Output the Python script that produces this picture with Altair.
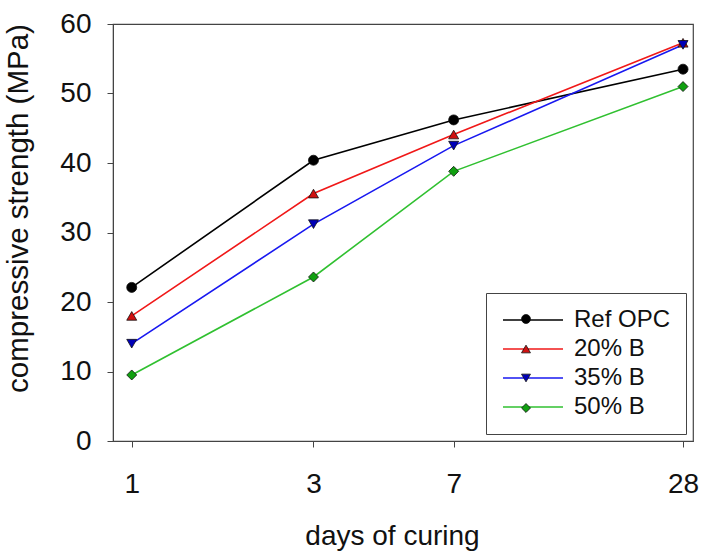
import altair as alt
import pandas as pd

days = [1, 3, 7, 28]
series_names = ["Ref OPC", "20% B", "35% B", "50% B"]
ref_opc = [22.1, 40.4, 46.2, 53.5]
b20 = [18.0, 35.6, 44.1, 57.3]
b35 = [14.0, 31.2, 42.5, 57.0]
b50 = [9.5, 23.6, 38.8, 51.0]
y_ticks = [0, 10, 20, 30, 40, 50, 60]

line_colors = ["#000000", "#f01818", "#1818f0", "#30c030"]
fill_colors = ["#000000", "#d01010", "#0000b8", "#10a010"]
shapes = ["circle", "triangle-up", "triangle-down", "diamond"]

rows = []
for name, vals in zip(series_names, [ref_opc, b20, b35, b50]):
    for d, v in zip(days, vals):
        rows.append({"day": d, "strength": v, "series": name, "series_l": name})
df = pd.DataFrame(rows)

FONT = "Liberation Sans"

x = alt.X("day:Q", scale=alt.Scale(type="log", domain=[0.893, 29.74]),
          axis=alt.Axis(values=days, title="days of curing", grid=False,
                        labelExpr="datum.value", labelBaseline="alphabetic",
                        labelPadding=45, titleBaseline="alphabetic",
                        titleX=279, titleY=103))
y = alt.Y("strength:Q", scale=alt.Scale(domain=[0, 60], nice=False),
          axis=alt.Axis(values=y_ticks, title="compressive strength (MPa)", grid=False,
                        labelPadding=16, titleBaseline="alphabetic",
                        titleFontSize=29.5, titleX=-86, titleY=184))

lines = alt.Chart(df).mark_line(strokeWidth=1.6).encode(
    x=x, y=y,
    stroke=alt.Stroke("series_l:N", sort=series_names,
                      scale=alt.Scale(range=line_colors),
                      legend=alt.Legend(orient="none", legendX=373, legendY=269,
                                        title=None, symbolType="M-1,0H5",
                                        symbolSize=400, symbolStrokeWidth=1.6,
                                        labelFontSize=24, labelFont=FONT,
                                        labelColor="#111", labelOffset=49,
                                        rowPadding=5, padding=15,
                                        strokeColor="#444", fillColor="white")),
    detail="series:N",
)

points = alt.Chart(df).mark_point(filled=True, size=100, stroke="#111",
                                  strokeWidth=0.8, opacity=1).encode(
    x=x, y=y,
    fill=alt.Fill("series:N", sort=series_names,
                  scale=alt.Scale(domain=series_names, range=fill_colors),
                  legend=alt.Legend(orient="none", legendX=393, legendY=275,
                                    title=None, symbolSize=80,
                                    symbolStrokeColor="#111", symbolStrokeWidth=0.8,
                                    symbolOpacity=1,
                                    labelFontSize=1, labelExpr="''",
                                    labelOffset=0,
                                    rowPadding=17, padding=15)),
    shape=alt.Shape("series:N", sort=series_names,
                    scale=alt.Scale(domain=series_names, range=shapes)),
)

chart = alt.layer(lines, points).properties(
    width=580, height=417,
    padding={"left": 113, "top": 24, "right": 11, "bottom": 113},
    autosize=alt.AutoSizeParams(type="none"),
).configure_view(
    stroke="#444", strokeWidth=1.2
).configure_axis(
    labelFont=FONT, titleFont=FONT, labelFontSize=28, titleFontSize=28,
    labelColor="#111", titleColor="#111", titleFontWeight="normal",
    domainColor="#444", tickColor="#444", tickSize=6,
)

chart.save("out.html", embed_options={"renderer": "svg", "actions": False})
